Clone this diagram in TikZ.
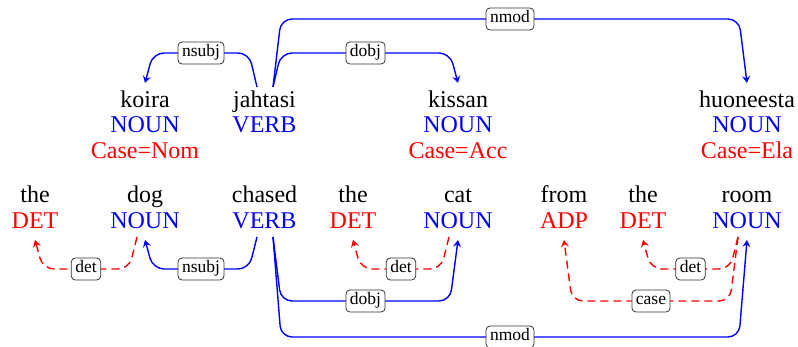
\documentclass[tikz,border=0pt]{standalone}
\usepackage{fontspec}
\setmainfont{Liberation Serif}
\usetikzlibrary{arrows.meta}
\definecolor{dblue}{RGB}{0,0,255}
\definecolor{dred}{RGB}{255,0,0}
\tikzset{
  tok/.style={anchor=base, inner sep=0pt, font=\fontsize{24}{26}\selectfont},
  arc/.style={line width=1.4pt, rounded corners=11pt, -{Stealth[length=7pt,width=8pt,inset=2.5pt]}},
  barc/.style={arc, draw=dblue},
  rarc/.style={arc, draw=dred, dash pattern=on 8pt off 5pt},
  lab/.style={draw=black!80, fill=white, rounded corners=4pt, line width=0.8pt,
    font=\fontsize{17.5}{19}\selectfont, inner xsep=4pt, inner ysep=3.5pt,
    text height=11.5pt, text depth=3.5pt, solid},
}
\begin{document}
\begin{tikzpicture}[x=1pt,y=1pt]
\useasboundingbox (0,0) rectangle (798,347);
% Finnish row
\node[tok] (koira) at (145,239) {koira};
\node[tok,text=dblue] (koiraP) at (145,214) {NOUN};
\node[tok,text=dred] (koiraF) at (145,188) {Case=Nom};
\node[tok] (jahtasi) at (264.5,239) {jahtasi};
\node[tok,text=dblue] (jahtasiP) at (264.5,214) {VERB};
\node[tok] (kissan) at (458,239) {kissan};
\node[tok,text=dblue] (kissanP) at (458,214) {NOUN};
\node[tok,text=dred] (kissanF) at (458,188) {Case=Acc};
\node[tok] (huoneesta) at (747,239) {huoneesta};
\node[tok,text=dblue] (huoneestaP) at (747,214) {NOUN};
\node[tok,text=dred] (huoneestaF) at (747,188) {Case=Ela};
% English row
\node[tok] (the1) at (35,144) {the};
\node[tok,text=dred] (the1P) at (35,118) {DET};
\node[tok] (dog) at (145,144) {dog};
\node[tok,text=dblue] (dogP) at (145,118) {NOUN};
\node[tok] (chased) at (264.5,144) {chased};
\node[tok,text=dblue] (chasedP) at (264.5,118) {VERB};
\node[tok] (the2) at (353,144) {the};
\node[tok,text=dred] (the2P) at (353,118) {DET};
\node[tok] (cat) at (458,144) {cat};
\node[tok,text=dblue] (catP) at (458,118) {NOUN};
\node[tok] (from) at (564,144) {from};
\node[tok,text=dred] (fromP) at (564,118) {ADP};
\node[tok] (the3) at (643,144) {the};
\node[tok,text=dred] (the3P) at (643,118) {DET};
\node[tok] (room) at (747,144) {room};
\node[tok,text=dblue] (roomP) at (747,118) {NOUN};

% Top arcs (height 294 / 328)
\draw[barc] ([shift={(-7.5pt,21pt)}]jahtasi.base) -- ++(-8,34) -- ([shift={(8pt,55pt)}]koira.base) -- ([yshift=25pt]koira.base);
\path ([shift={(-15.5pt,55pt)}]jahtasi.base) -- ([shift={(8pt,55pt)}]koira.base) node[lab, midway] (l1) {nsubj};
\draw[barc] ([shift={(8.5pt,21pt)}]jahtasi.base) -- ++(8,34) -- ([shift={(-8pt,55pt)}]kissan.base) -- ([yshift=25pt]kissan.base);
\path ([shift={(16.5pt,55pt)}]jahtasi.base) -- ([shift={(-8pt,55pt)}]kissan.base) node[lab, midway] (l2) {dobj};
\draw[barc] ([shift={(8.5pt,21pt)}]jahtasi.base) -- ++(8,68) -- ([shift={(-8pt,89pt)}]huoneesta.base) -- ([yshift=25pt]huoneesta.base);
\path ([shift={(16.5pt,89pt)}]jahtasi.base) -- ([shift={(-8pt,89pt)}]huoneesta.base) node[lab, midway] (l3) {nmod};

% Bottom arcs (levels 78 / 46 / 10)
\draw[rarc] ([shift={(-8pt,-8pt)}]dogP.base) -- ++(-8,-32) -- ([shift={(8pt,-40pt)}]the1P.base) -- ([yshift=-11pt]the1P.base);
\path ([shift={(-16pt,-40pt)}]dogP.base) -- ([shift={(8pt,-40pt)}]the1P.base) node[lab, midway] (l4) {det};
\draw[barc] ([shift={(-7.5pt,-8pt)}]chasedP.base) -- ++(-8,-32) -- ([shift={(8pt,-40pt)}]dogP.base) -- ([yshift=-11pt]dogP.base);
\path ([shift={(-15.5pt,-40pt)}]chasedP.base) -- ([shift={(8pt,-40pt)}]dogP.base) node[lab, midway] (l5) {nsubj};
\draw[rarc] ([shift={(-9pt,-8pt)}]catP.base) -- ++(-8,-32) -- ([shift={(8pt,-40pt)}]the2P.base) -- ([yshift=-11pt]the2P.base);
\path ([shift={(-17pt,-40pt)}]catP.base) -- ([shift={(8pt,-40pt)}]the2P.base) node[lab, midway] (l6) {det};
\draw[barc] ([shift={(8.5pt,-8pt)}]chasedP.base) -- ++(8,-64) -- ([shift={(-8pt,-72pt)}]catP.base) -- ([yshift=-11pt]catP.base);
\path ([shift={(16.5pt,-72pt)}]chasedP.base) -- ([shift={(-8pt,-72pt)}]catP.base) node[lab, midway] (l7) {dobj};
\draw[barc] ([shift={(8.5pt,-8pt)}]chasedP.base) -- ++(8,-100) -- ([shift={(-8pt,-108pt)}]roomP.base) -- ([yshift=-11pt]roomP.base);
\path ([shift={(16.5pt,-108pt)}]chasedP.base) -- ([shift={(-8pt,-108pt)}]roomP.base) node[lab, midway] (l8) {nmod};
\draw[rarc] ([shift={(-9pt,-8pt)}]roomP.base) -- ++(-8,-32) -- ([shift={(8pt,-40pt)}]the3P.base) -- ([yshift=-11pt]the3P.base);
\path ([shift={(-17pt,-40pt)}]roomP.base) -- ([shift={(8pt,-40pt)}]the3P.base) node[lab, midway] (l9) {det};
\draw[rarc] ([shift={(-9pt,-8pt)}]roomP.base) -- ++(-8,-64) -- ([shift={(8pt,-72pt)}]fromP.base) -- ([yshift=-11pt]fromP.base);
\path ([shift={(-17pt,-72pt)}]roomP.base) -- ([shift={(8pt,-72pt)}]fromP.base) node[lab, midway] (l10) {case};
\end{tikzpicture}
\end{document}
